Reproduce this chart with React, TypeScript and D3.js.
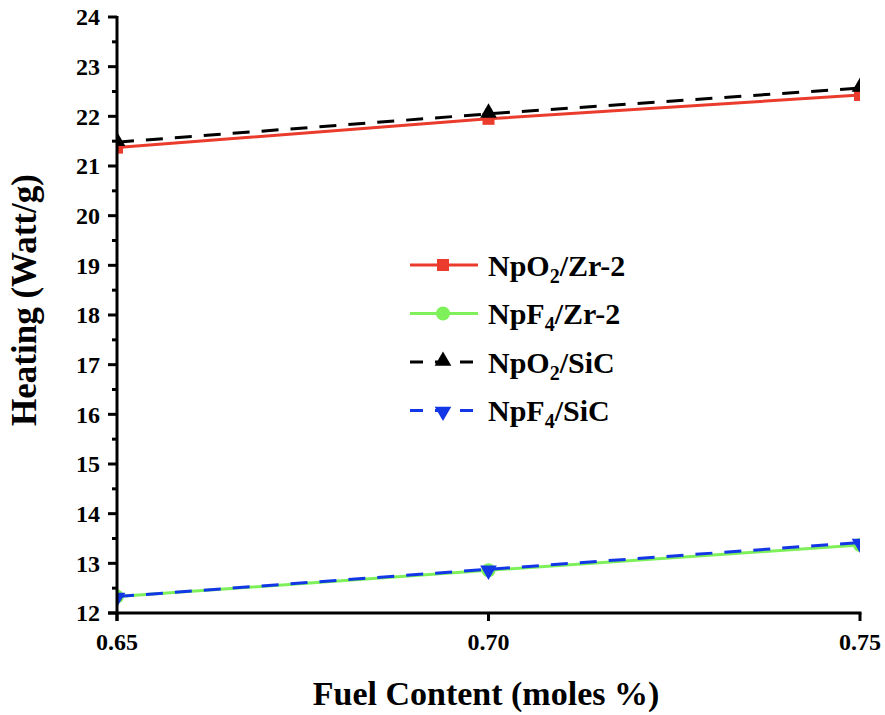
import React from 'react'
import * as d3 from 'd3'

const fuelContent = [0.65, 0.7, 0.75]
const npo2Zr = [21.37, 21.95, 22.43]
const npf4Zr = [12.33, 12.86, 13.37]
const npo2SiC = [21.48, 22.05, 22.57]
const npf4SiC = [12.33, 12.88, 13.42]
const xTicks = [0.65, 0.7, 0.75]
const yTicks = d3.range(12, 25)

const series = [
  { key: 'NpO2/Zr-2', sub: '2', base: 'NpO', rest: '/Zr-2', values: npo2Zr, color: '#ea3b2c', dash: null, marker: 'square' },
  { key: 'NpF4/Zr-2', sub: '4', base: 'NpF', rest: '/Zr-2', values: npf4Zr, color: '#7df05a', dash: null, marker: 'circle' },
  { key: 'NpO2/SiC', sub: '2', base: 'NpO', rest: '/SiC', values: npo2SiC, color: '#000000', dash: '17,12', marker: 'up' },
  { key: 'NpF4/SiC', sub: '4', base: 'NpF', rest: '/SiC', values: npf4SiC, color: '#1337e6', dash: '17,12', marker: 'down' },
]

const FONT = '"Liberation Serif", "Times New Roman", serif'

function Marker({ type, x, y, color }: { type: string; x: number; y: number; color: string }) {
  if (type === 'square') return <rect x={x - 6} y={y - 6} width={12} height={12} fill={color} />
  if (type === 'circle') return <circle cx={x} cy={y} r={7} fill={color} />
  const sym = d3.symbol().type(d3.symbolTriangle).size(120)()
  return <path d={sym || ''} transform={`translate(${x},${type === 'up' ? y - 1 : y + 1}) rotate(${type === 'up' ? 0 : 180})`} fill={color} />
}

export default function App() {
  const width = 885
  const height = 715
  const margin = { top: 17, right: 25, bottom: 103, left: 117 }

  const x = d3.scaleLinear().domain([0.65, 0.75]).range([margin.left, width - margin.right])
  const y = d3.scaleLinear().domain([12, 24]).range([height - margin.bottom + 1, margin.top])

  const line = d3
    .line<number>()
    .x((d, i) => x(fuelContent[i]))
    .y(d => y(d))

  const minor = d3.range(12.5, 24, 1)
  const x0 = margin.left
  const xEnd = width - margin.right
  const yBottom = y(12)

  return (
    <svg width={width} height={height} style={{ position: 'absolute', left: 0, top: 0, background: '#fff' }} fontFamily={FONT}>
      <defs>
        <clipPath id="plot">
          <rect x={x0} y={0} width={xEnd - x0} height={yBottom} />
        </clipPath>
      </defs>

      <g clipPath="url(#plot)">
        {series.map(s => (
          <g key={s.key}>
            <path d={line(s.values) || ''} fill="none" stroke={s.color} strokeWidth={3} strokeDasharray={s.dash || undefined} />
            {s.values.map((v, i) => (
              <Marker key={i} type={s.marker} x={x(fuelContent[i])} y={y(v)} color={s.color} />
            ))}
          </g>
        ))}
      </g>

      {/* y axis */}
      <line x1={x0} x2={x0} y1={y(24) - 1} y2={yBottom + 8} stroke="#000" strokeWidth={3} />
      {yTicks.map(t => (
        <g key={t}>
          <line x1={x0 - 9} x2={x0} y1={y(t)} y2={y(t)} stroke="#000" strokeWidth={3} />
          <text x={x0 - 17} y={y(t)} dy="0.35em" textAnchor="end" fontSize={24} fontWeight="bold">
            {t}
          </text>
        </g>
      ))}
      {minor.map(t => (
        <line key={t} x1={x0 - 5} x2={x0} y1={y(t)} y2={y(t)} stroke="#000" strokeWidth={3} />
      ))}

      {/* x axis */}
      <line x1={x0 - 9} x2={xEnd + 1.5} y1={yBottom} y2={yBottom} stroke="#000" strokeWidth={3} />
      {xTicks.map(t => (
        <g key={t}>
          <line x1={x(t)} x2={x(t)} y1={yBottom} y2={yBottom + 8} stroke="#000" strokeWidth={3} />
          <text x={x(t)} y={yBottom + 37} textAnchor="middle" fontSize={24} fontWeight="bold">
            {d3.format('.2f')(t)}
          </text>
        </g>
      ))}

      <text x={486} y={705} textAnchor="middle" fontSize={34} fontWeight="bold">
        Fuel Content (moles %)
      </text>
      <text transform={`translate(36,300) rotate(-90)`} textAnchor="middle" fontSize={35} fontWeight="bold">
        Heating (Watt/g)
      </text>

      {/* legend */}
      {series.map((s, i) => {
        const ly = 265 + i * 48.5
        return (
          <g key={s.key}>
            <line x1={410} x2={478} y1={ly} y2={ly} stroke={s.color} strokeWidth={3} strokeDasharray={s.dash ? '13,12' : undefined} />
            <Marker type={s.marker} x={443} y={ly} color={s.color} />
            <text x={488} y={ly} dy="0.35em" fontSize={30} fontWeight="bold">
              {s.base}
              <tspan fontSize={20} dy={7}>{s.sub}</tspan>
              <tspan dy={-7}>{s.rest}</tspan>
            </text>
          </g>
        )
      })}
    </svg>
  )
}
